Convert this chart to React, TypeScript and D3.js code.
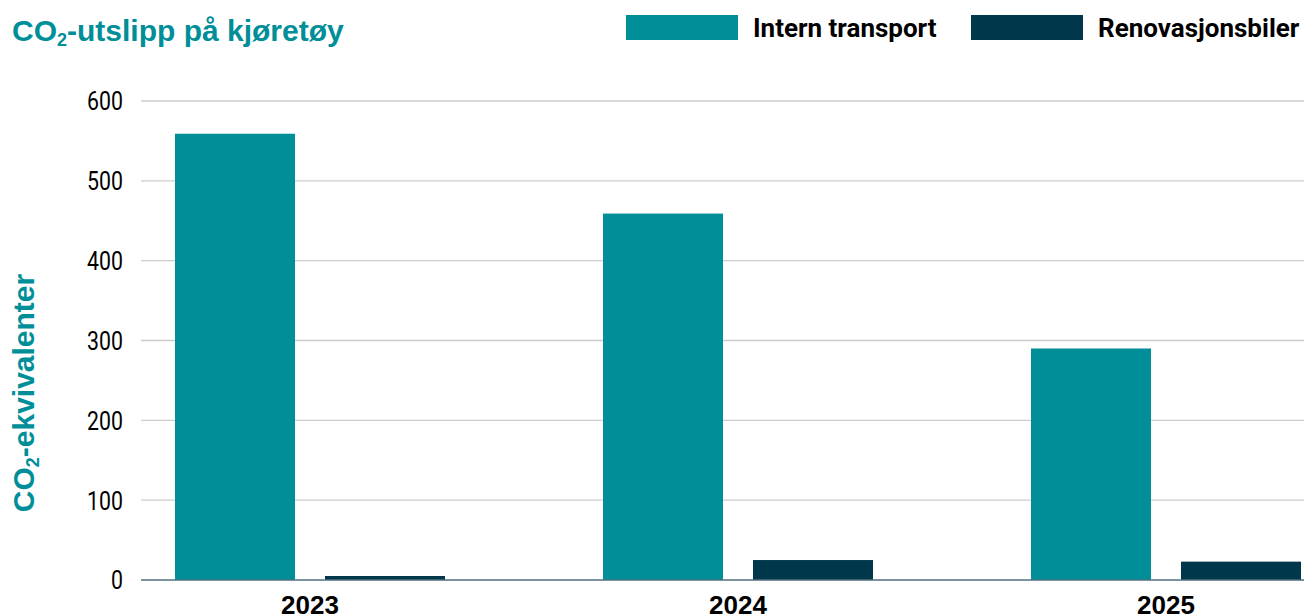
import React from "react";
import * as d3 from "d3";

const years = ["2023", "2024", "2025"];
const seriesNames = ["Intern transport", "Renovasjonsbiler"];
const internTransport = [559, 459, 290];
const renovasjonsbiler = [5, 25, 23];
const yTicks = [0, 100, 200, 300, 400, 500, 600];
const colors = ["#008f99", "#00374a"];

const W = 1304;
const H = 616;

export default function App() {
  const yBottom = 580;
  const yTop = 101;
  const y = d3.scaleLinear().domain([0, 600]).range([yBottom, yTop]);
  const x0 = d3.scaleBand<string>().domain(years).range([96, 96 + 3 * 428]).padding(0);
  const x1 = d3
    .scaleBand<string>()
    .domain(seriesNames)
    .range([64, 364])
    .paddingInner(0.2)
    .paddingOuter(0.1);
  const values = [internTransport, renovasjonsbiler];
  const gridX0 = 141;
  const roboto = "Roboto, 'Liberation Sans', Arial, sans-serif";
  const sans = "'Liberation Sans', Arial, Helvetica, sans-serif";

  return (
    <svg
      width={W}
      height={H}
      style={{ position: "absolute", left: 0, top: 0, display: "block" }}
    >
      <rect width={W} height={H} fill="#ffffff" />
      {/* Title */}
      <text x={12} y={41} fill="#008f99" fontFamily={sans} fontWeight={700} fontSize={30}>
        CO
        <tspan fontSize={18} dy={5}>2</tspan>
        <tspan dy={-5}>-utslipp på kjøretøy</tspan>
      </text>
      {/* Legend */}
      {seriesNames.map((s, i) => {
        const lx = [626, 971][i];
        return (
          <g key={s}>
            <rect x={lx} y={15} width={112} height={25} fill={colors[i]} />
            <text x={lx + 127} y={37} fontFamily={roboto} fontWeight={700} fontSize={26} fill="#000">
              {s}
            </text>
          </g>
        );
      })}
      {/* Gridlines & ticks */}
      {yTicks.map((t) => (
        <g key={t}>
          {t !== 0 && (
            <line x1={gridX0} x2={W} y1={y(t)} y2={y(t)} stroke="#cccccc" strokeWidth={1.3} />
          )}
          <text
            transform={`translate(123, ${y(t)}) scale(0.82, 1)`}
            dy="0.36em"
            textAnchor="end"
            fontFamily={roboto}
            fontSize={26}
            fill="#000"
          >
            {t}
          </text>
        </g>
      ))}
      {/* Y axis title */}
      <text
        transform={`translate(34, ${393}) rotate(-90)`}
        textAnchor="middle"
        fill="#008f99"
        fontFamily={sans}
        fontWeight={700}
        fontSize={30}
      >
        CO
        <tspan fontSize={18} dy={5}>2</tspan>
        <tspan dy={-5}>-ekvivalenter</tspan>
      </text>
      {/* Bars */}
      {years.map((yr, gi) => (
        <g key={yr} transform={`translate(${x0(yr)},0)`}>
          {seriesNames.map((s, si) => {
            const v = values[si][gi];
            return (
              <rect
                key={s}
                x={x1(s)}
                y={y(v)}
                width={x1.bandwidth()}
                height={yBottom - y(v)}
                fill={colors[si]}
              />
            );
          })}
          <text
            x={x0.bandwidth() / 2}
            y={614}
            textAnchor="middle"
            fontFamily={sans}
            fontWeight={700}
            fontSize={26}
            fill="#000"
          >
            {yr}
          </text>
        </g>
      ))}
      {/* Baseline */}
      <line x1={gridX0} x2={W} y1={yBottom} y2={yBottom} stroke="#4f6f7f" strokeWidth={1.5} />
    </svg>
  );
}
